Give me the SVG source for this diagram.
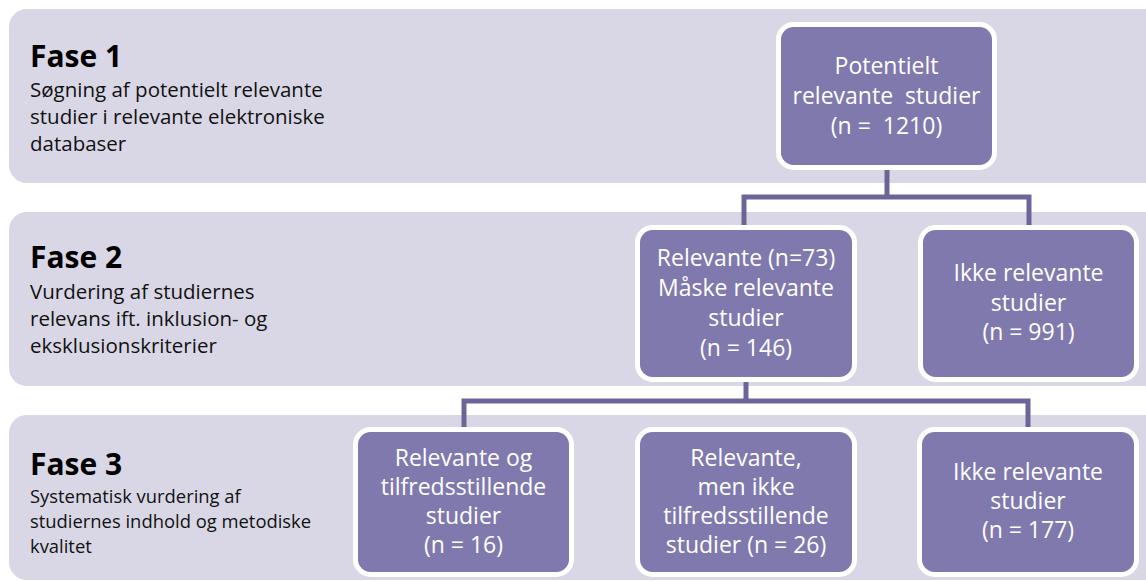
<svg xmlns="http://www.w3.org/2000/svg" width="1146" height="581" viewBox="0 0 1146 581">
<style>
.panel{fill:#D9D7E5}
.node{fill:#8079AE;stroke:#FFFFFF;stroke-width:5}
.conn{fill:none;stroke:#6C6698;stroke-width:5}
.ph{font-family:"Open Sans","Noto Sans",sans-serif;font-weight:bold;font-size:30px;fill:#000}
.pt{font-family:"Open Sans","Noto Sans",sans-serif;font-size:20.5px;fill:#111}
.pt3{font-family:"Open Sans","Noto Sans",sans-serif;font-size:18.4px;fill:#111}
.nt{font-family:"Open Sans","Noto Sans",sans-serif;font-size:23px;fill:#FFFFFF;text-anchor:middle}
</style>
<rect width="1146" height="581" fill="#FFFFFF"/>
<g id="phase1">
<rect class="panel" x="9" y="9" width="1160" height="174" rx="18"/>
<text class="ph" x="30" y="67">Fase 1</text>
<text class="pt" x="30" y="97">Søgning af potentielt relevante</text>
<text class="pt" x="30" y="124">studier i relevante elektroniske</text>
<text class="pt" x="30" y="151">databaser</text>
</g>
<g id="phase2">
<rect class="panel" x="9" y="212" width="1160" height="174" rx="18"/>
<text class="ph" x="30" y="268">Fase 2</text>
<text class="pt" x="30" y="299">Vurdering af studiernes</text>
<text class="pt" x="30" y="326">relevans ift. inklusion- og</text>
<text class="pt" x="30" y="353">eksklusionskriterier</text>
</g>
<g id="phase3">
<rect class="panel" x="9" y="415" width="1160" height="165" rx="18"/>
<text class="ph" x="30" y="475">Fase 3</text>
<text class="pt3" x="30" y="503">Systematisk vurdering af</text>
<text class="pt3" x="30" y="528">studiernes indhold og metodiske</text>
<text class="pt3" x="30" y="553">kvalitet</text>
</g>
<g id="connectors">
<path class="conn" d="M887 168 V197 M744 225 V197 H1029 V225"/>
<path class="conn" d="M746 380 V401 M464 427 V401 H1028 V427"/>
</g>
<g id="n-potentielt">
<rect class="node" x="778.5" y="24.5" width="216" height="143" rx="15"/>
<text class="nt" x="886.5" y="74">Potentielt</text>
<text class="nt" x="886.5" y="104" xml:space="preserve">relevante  studier</text>
<text class="nt" x="886.5" y="134" xml:space="preserve">(n =  1210)</text>
</g>
<g id="n-relevante">
<rect class="node" x="637.5" y="227.5" width="217" height="152" rx="15"/>
<text class="nt" x="746" y="266">Relevante (n=73)</text>
<text class="nt" x="746" y="296">Måske relevante</text>
<text class="nt" x="746" y="326">studier</text>
<text class="nt" x="746" y="356">(n = 146)</text>
</g>
<g id="n-ikke1">
<rect class="node" x="920.5" y="227.5" width="216" height="152" rx="15"/>
<text class="nt" x="1028.5" y="281">Ikke relevante</text>
<text class="nt" x="1028.5" y="311">studier</text>
<text class="nt" x="1028.5" y="340">(n = 991)</text>
</g>
<g id="n-tilfreds">
<rect class="node" x="355.5" y="429.5" width="216" height="145" rx="15"/>
<text class="nt" x="463.5" y="466">Relevante og</text>
<text class="nt" x="463.5" y="495">tilfredsstillende</text>
<text class="nt" x="463.5" y="524">studier</text>
<text class="nt" x="463.5" y="553">(n = 16)</text>
</g>
<g id="n-ikketilfreds">
<rect class="node" x="637.5" y="429.5" width="217" height="145" rx="15"/>
<text class="nt" x="746" y="466">Relevante,</text>
<text class="nt" x="746" y="495">men ikke</text>
<text class="nt" x="746" y="524">tilfredsstillende</text>
<text class="nt" x="746" y="553">studier (n = 26)</text>
</g>
<g id="n-ikke2">
<rect class="node" x="919.5" y="429.5" width="217" height="145" rx="15"/>
<text class="nt" x="1028" y="480">Ikke relevante</text>
<text class="nt" x="1028" y="509">studier</text>
<text class="nt" x="1028" y="538">(n = 177)</text>
</g>
</svg>
